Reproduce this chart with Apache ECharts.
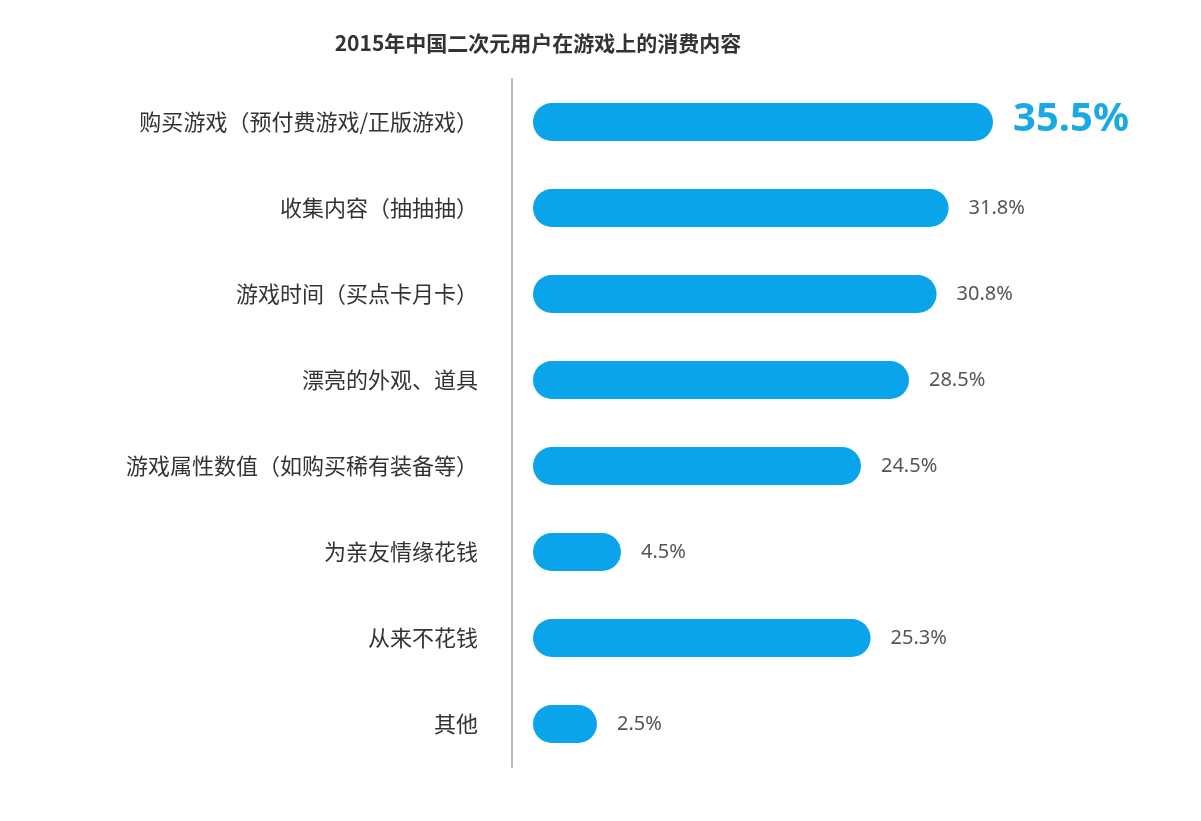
<!DOCTYPE html>
<html><head><meta charset="utf-8">
<script src="https://cdn.jsdelivr.net/npm/echarts@6/dist/echarts.min.js"></script>
<style>html,body{margin:0;padding:0;background:#fff}#c{width:1201px;height:821px}</style>
</head><body><div id="c"></div>
<script>
const title = '2015年中国二次元用户在游戏上的消费内容';
const categories = ['购买游戏（预付费游戏/正版游戏）','收集内容（抽抽抽）','游戏时间（买点卡月卡）','漂亮的外观、道具','游戏属性数值（如购买稀有装备等）','为亲友情缘花钱','从来不花钱','其他'];
const values = [35.5, 31.8, 30.8, 28.5, 24.5, 4.5, 25.3, 2.5];
const OFFSET = 2.83; // visual start of rounded bars before zero
const GAP = 1.75;    // space between axis line and bar start
const chart = echarts.init(document.getElementById('c'));
chart.setOption({
  animation:false,
  title:{text:title,left:533,top:28,textAlign:'center',textStyle:{fontSize:21,fontWeight:'bold',color:'#333',fontFamily:'Noto Sans CJK SC'}},
  grid:{left:512,top:79,height:688,width:535},
  xAxis:{type:'value',min:0,max:40+OFFSET+GAP,show:false},
  yAxis:{type:'category',inverse:true,data:categories,
    axisLine:{show:true,lineStyle:{color:'#bbb',width:2}},axisTick:{show:false},
    axisLabel:{margin:34,fontSize:22,color:'#333',fontFamily:'Noto Sans CJK SC'}},
  series:[
   {type:'bar',stack:'s',barWidth:38,data:values.map(()=>GAP),itemStyle:{color:'transparent'},silent:true},
   {type:'bar',stack:'s',barWidth:38,
    data:values.map((v,i)=>({value:v+OFFSET,
      label: i===0?{fontSize:40,fontWeight:'bold',color:'#1aa9e1',offset:[0,-2]}:{}})),
    itemStyle:{color:'#0aa4ea',borderRadius:19},
    label:{show:true,position:'right',distance:20,fontSize:20,color:'#555',fontFamily:'Noto Sans',
      formatter:p=>values[p.dataIndex].toFixed(1)+'%'}}]
});
</script></body></html>
